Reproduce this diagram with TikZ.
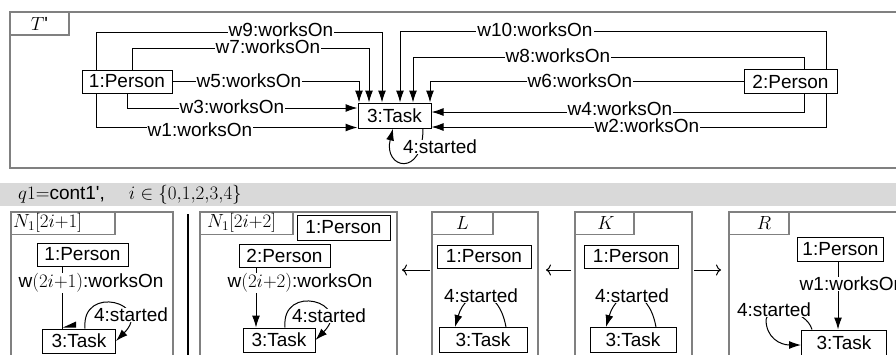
\RequirePackage{fix-cm}
\documentclass[tikz,border=0pt]{standalone}
\usepackage{fontspec}
\setmainfont{Liberation Sans}
\usetikzlibrary{arrows.meta}
\begin{document}
\begin{tikzpicture}[x=1pt,y=-1pt,
  every node/.style={font=\fontsize{19}{23}\selectfont},
  obj/.style={draw,line width=1pt,fill=white,inner sep=0pt,minimum height=23pt},
  lbl/.style={fill=white,inner xsep=1pt,inner ysep=0.5pt},
  ln/.style={line width=1pt},
  arr/.style={line width=1pt,-{Latex[length=12pt,width=8pt]}},
  sarr/.style={line width=1pt,-{To[length=5pt,width=11pt]}},
  frm/.style={draw=black!50,line width=1.6pt},
  tabtxt/.style={inner sep=0pt}
]
\useasboundingbox (0,0) rectangle (896,354);
\clip (0,0) rectangle (896,354);
\fill[white] (0,0) rectangle (896,354);

% ---------------- T' ----------------
\draw[frm] (10,12) rectangle (905,168);
\draw[frm] (10,12) rectangle (69,35);
\node[tabtxt] (tT) at (39.5,23.5) {$T$\textquotesingle};

\node[obj,minimum width=90pt] (p1) at (127,81.5) {1:Person};
\node[obj,minimum width=73pt,minimum height=25pt] (task) at (394.5,115.5) {3:Task};
\node[obj,minimum width=93pt,minimum height=24pt] (p2) at (790.5,81.5) {2:Person};

\coordinate (b9) at (382,32);
\coordinate (b7) at (369,48);
\coordinate (b10) at (400,31);
\coordinate (b8) at (413,57);

\draw[arr] ([xshift=-31pt]p1.north) |- (b9) -- ([xshift=-12.5pt]task.north);
\draw[arr] ([xshift=5pt]p1.north) |- (b7) -- ([xshift=-25.5pt]task.north);
\draw[arr] (p1.east) -| ([xshift=-35.5pt]task.north);
\draw[arr] (p1.south) |- ([yshift=7.5pt]task.west);
\draw[arr] ([xshift=-31pt]p1.south) |- ([yshift=-12pt]task.west);

\draw[arr] ([xshift=35.5pt]p2.north) |- (b10) -- ([xshift=5.5pt]task.north);
\draw[arr] ([xshift=13.5pt]p2.north) |- (b8) -- ([xshift=18.5pt]task.north);
\draw[arr] (p2.west) -| ([xshift=35.5pt]task.north);
\draw[arr] ([xshift=13.5pt]p2.south) |- ([yshift=3.5pt]task.east);
\draw[arr] ([xshift=35.5pt]p2.south) |- ([yshift=-11.5pt]task.east);

\node[lbl] (l9) at (281,30) {w9:worksOn};
\node[lbl] (l7) at (268,47) {w7:worksOn};
\node[lbl] (l5) at (249,81) {w5:worksOn};
\node[lbl] (l3) at (232,107) {w3:worksOn};
\node[lbl] (l1) at (200,130) {w1:worksOn};
\node[lbl] (l10) at (535,30) {w10:worksOn};
\node[lbl] (l8) at (558,56) {w8:worksOn};
\node[lbl] (l6) at (580,81) {w6:worksOn};
\node[lbl] (l4) at (620,109) {w4:worksOn};
\node[lbl] (l2) at (647,126) {w2:worksOn};

\draw[arr] ([xshift=28.5pt]task.south) .. controls +(0,50) and +(-10,40) .. ([xshift=-1.5pt]task.south);
\node[lbl] (s0) at (440,147) {4:started};

% ---------------- band ----------------
\fill[black!15] (0,183) rectangle (896,206);
\node[anchor=west,inner sep=0pt] (q) at (18,195) {$q1{=}$cont1\textquotesingle,\hspace{24pt}$i\in\{0{,}1{,}2{,}3{,}4\}$};

% ---------------- N1[2i+1] ----------------
\draw[frm] (11,212) rectangle (173,370);
\draw[frm] (11,212) rectangle (115,234.5);
\node[tabtxt,anchor=west] (tN1) at (13,223) {$N_1[2i{+}1]$};
\node[obj,minimum width=91pt] (a1) at (82.5,254.5) {1:Person};
\node[obj,minimum width=73pt,minimum height=24pt] (a3) at (79,341) {3:Task};
\draw[ln] ([xshift=-20.5pt]a1.south) -- ([xshift=-17pt]a3.north);
\fill ([xshift=-16pt,yshift=1pt]a3.north) -- ++(13,-6) -- ++(0,6) -- cycle;
\node[lbl] (aw) at (91,283) {w$(2i{+}1)$:worksOn};
\draw[arr] ([xshift=6pt]a3.north) .. controls +(-4,-45) and +(38,-38) .. (a3.east);
\node[lbl] (as) at (131,315) {4:started};

% separator
\coordinate (sepA) at (188,214);
\coordinate (sepB) at (188,360);
\draw[line width=1.3pt] (sepA) -- (sepB);

% ---------------- N1[2i+2] ----------------
\draw[frm] (200,212) rectangle (397,370);
\draw[frm] (200,212) rectangle (293,234.5);
\node[tabtxt,anchor=west] (tN2) at (207,223) {$N_1[2i{+}2]$};
\node[obj,minimum width=93pt,minimum height=25pt] (bp) at (343.5,227.5) {1:Person};
\node[obj,minimum width=91pt] (b2) at (284.5,255.5) {2:Person};
\node[obj,minimum width=72pt,minimum height=24pt] (b3) at (279,340) {3:Task};
\draw[arr] ([xshift=-28.5pt]b2.south) -- ([xshift=-23pt]b3.north);
\node[lbl] (bw) at (300,283) {w$(2i{+}2)$:worksOn};
\draw[arr] ([xshift=6pt]b3.north) .. controls +(-4,-45) and +(38,-38) .. (b3.east);
\node[lbl] (bs) at (329,316) {4:started};

% arrows between panels
\coordinate (e1a) at (430,270); \coordinate (e1b) at (402,270);
\coordinate (e2a) at (571,270); \coordinate (e2b) at (546,270);
\coordinate (e3a) at (694,270); \coordinate (e3b) at (721,270);
\draw[sarr] (e1a) -- (e1b);
\draw[sarr] (e2a) -- (e2b);
\draw[sarr] (e3a) -- (e3b);

% ---------------- L ----------------
\draw[frm] (432,212) rectangle (538,370);
\draw[frm] (432,212) rectangle (493,234.5);
\node[tabtxt] (tL) at (462.5,223) {$L$};
\node[obj,minimum width=94pt] (c1) at (484,256.5) {1:Person};
\node[obj,minimum width=88pt,minimum height=25pt] (c3) at (483,340) {3:Task};
\draw[arr] ([xshift=23pt]c3.north) .. controls +(-8,-43) and +(11,-38) .. ([xshift=-28pt]c3.north);
\node[lbl] (cs) at (481,296) {4:started};

% ---------------- K ----------------
\draw[frm] (575,212) rectangle (692,370);
\draw[frm] (575,212) rectangle (634,234.5);
\node[tabtxt] (tK) at (606,223) {$K$};
\node[obj,minimum width=94pt] (d1) at (631,256.5) {1:Person};
\node[obj,minimum width=86pt,minimum height=25pt] (d3) at (633,340) {3:Task};
\draw[arr] ([xshift=23pt]d3.north) .. controls +(-8,-43) and +(11,-38) .. ([xshift=-27pt]d3.north);
\node[lbl] (ds) at (632,296) {4:started};

% ---------------- R ----------------
\draw[frm] (729,212) rectangle (905,370);
\draw[frm] (729,212) rectangle (789,234.5);
\node[tabtxt] (tR) at (764,223) {$R$};
\node[obj,minimum width=86pt,minimum height=24pt] (r1) at (840.5,249) {1:Person};
\node[obj,minimum width=85pt,minimum height=25pt] (r3) at (844,342.5) {3:Task};
\draw[arr] ([xshift=-2.5pt]r1.south) -- ([xshift=-6pt]r3.north);
\node[lbl] (rw) at (852,284) {w1:worksOn};
\draw[arr] ([xshift=-32pt]r3.north) .. controls +(-6,-20) and +(4,-15) .. ++(-46,-10)
  .. controls +(0,18) and +(-21,0) .. ([yshift=-2.5pt]r3.west);
\node[lbl] (rs) at (774,310) {4:started};
\end{tikzpicture}
\end{document}
